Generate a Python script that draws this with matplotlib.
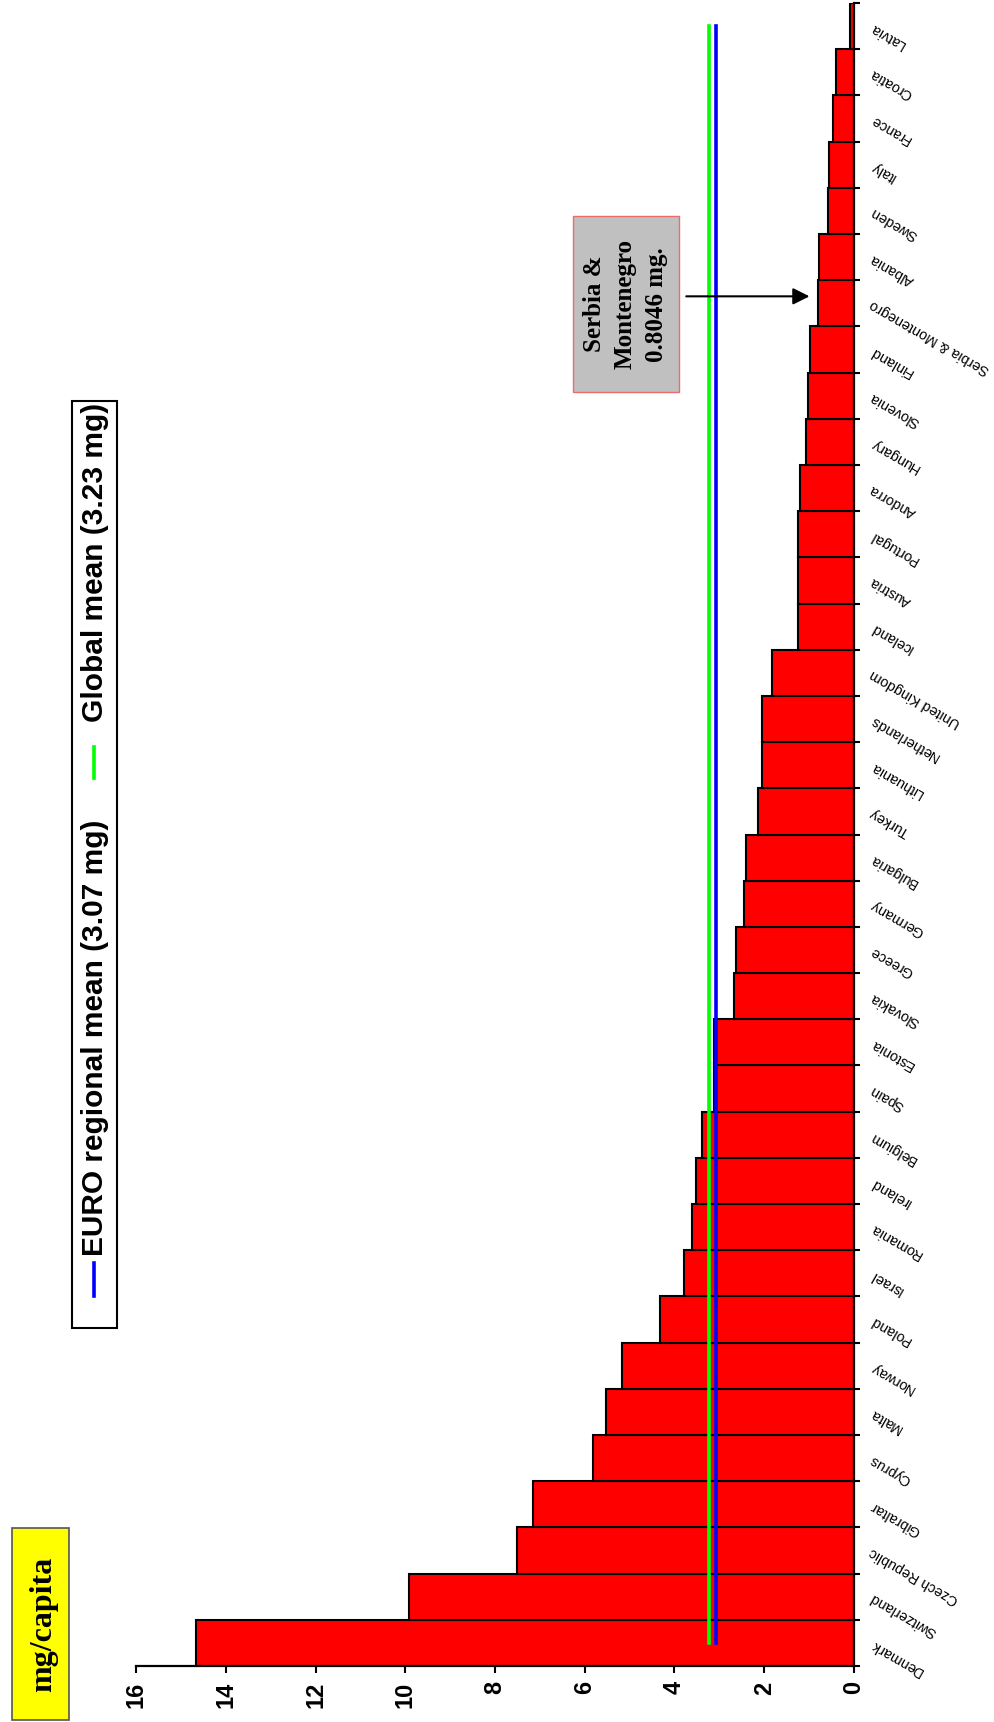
import numpy as np
import matplotlib
matplotlib.use("Agg")
import matplotlib.pyplot as plt
from matplotlib.patches import Rectangle
from matplotlib.lines import Line2D

plt.rcParams['font.family'] = ['Liberation Sans', 'DejaVu Sans']

# mg per capita, by country
countries = ['Denmark', 'Switzerland', 'Czech Republic', 'Gibraltar', 'Cyprus', 'Malta',
             'Norway', 'Poland', 'Israel', 'Romania', 'Ireland', 'Belgium', 'Spain',
             'Estonia', 'Slovakia', 'Greece', 'Germany', 'Bulgaria', 'Turkey', 'Lithuania',
             'Netherlands', 'United Kingdom', 'Iceland', 'Austria', 'Portugal', 'Andorra',
             'Hungary', 'Slovenia', 'Finland', 'Serbia & Montenegro', 'Albania', 'Sweden',
             'Italy', 'France', 'Croatia', 'Latvia']
values = [14.67, 9.92, 7.52, 7.16, 5.82, 5.52,
          5.16, 4.32, 3.78, 3.61, 3.52, 3.38, 3.12,
          3.12, 2.67, 2.62, 2.45, 2.41, 2.13, 2.04,
          2.04, 1.83, 1.25, 1.24, 1.24, 1.21,
          1.07, 1.03, 0.98, 0.8046, 0.77, 0.58,
          0.55, 0.46, 0.40, 0.09]
euro_mean = 3.07
global_mean = 3.23
value_ticks = [0, 2, 4, 6, 8, 10, 12, 14, 16]

W, H = 995, 1722
fig = plt.figure(figsize=(W / 100, H / 100), dpi=100)
fig.patch.set_facecolor('white')


def fx(x):
    return x / W


def fy(y):
    return 1 - y / H


# the chart is laid on its side: values grow to the left, countries go upward
ax = fig.add_axes([fx(136), fy(1666), (854 - 136) / W, (1666 - 3) / H])
pos = np.arange(len(countries))
ax.barh(pos, values, height=1.0, color='#FF0000', edgecolor='black', linewidth=1.5, zorder=2)
ax.plot([euro_mean, euro_mean], [pos[0], pos[-1]], color='#0000FF', lw=2.6, zorder=3)
ax.plot([global_mean, global_mean], [pos[0], pos[-1]], color='#00FF00', lw=2.6, zorder=3)

ax.set_xlim(16, 0)
ax.set_ylim(-0.5, len(countries) - 0.5)
for side in ['top', 'left']:
    ax.spines[side].set_visible(False)
for side in ['right', 'bottom']:
    ax.spines[side].set_linewidth(1.6)

ax.set_xticks(value_ticks)
ax.set_xticklabels([str(v) for v in value_ticks], rotation=90, fontsize=17, fontweight='bold')
ax.tick_params(axis='x', direction='out', length=5, width=1.5, pad=6)

ax.yaxis.tick_right()
ax.set_yticks(np.arange(-0.5, len(countries), 1.0))
ax.set_yticklabels([])
ax.tick_params(axis='y', direction='out', length=4.5, width=1.5)

for i, name in enumerate(countries):
    ax.text(-0.38, i, name, rotation=150, rotation_mode='anchor', ha='right', va='center',
            fontsize=10.3, clip_on=False)

# callout for Serbia & Montenegro
ax.add_patch(Rectangle((3.91, 27.08), 2.36, 3.81, facecolor='#C0C0C0', edgecolor='#EE6B6B',
                       linewidth=1.0, zorder=4))
ax.text(5.09, 28.98, 'Serbia &\nMontenegro\n0.8046 mg.', rotation=90, ha='center', va='center',
        family='Liberation Serif', fontweight='bold', fontsize=18, linespacing=1.45, zorder=5)
ax.annotate('', xy=(0.93, 29.15), xytext=(3.8, 29.15),
            arrowprops=dict(arrowstyle='-|>', color='black', lw=1.5, mutation_scale=25), zorder=5)

# unit label
fig.add_artist(Rectangle((fx(12), fy(1720)), (69 - 12) / W, (1720 - 1528) / H,
                         transform=fig.transFigure, facecolor='#FFFF00', edgecolor='#555555',
                         linewidth=1.2))
fig.text(fx(44), fy(1624), 'mg/capita', rotation=90, ha='center', va='center',
         family='Liberation Serif', fontweight='bold', fontsize=23)

# legend drawn by hand so it can stand on its side
fig.add_artist(Rectangle((fx(72), fy(1328)), (117 - 72) / W, (1328 - 401) / H,
                         transform=fig.transFigure, facecolor='white', edgecolor='black',
                         linewidth=1.5))
fig.add_artist(Line2D([fx(94), fx(94)], [fy(1296), fy(1263)], transform=fig.transFigure,
                      color='#0000FF', lw=2.6))
fig.text(fx(95), fy(1256), 'EURO regional mean (3.07 mg)', rotation=90, ha='center', va='bottom',
         fontsize=21.5, fontweight='bold')
fig.add_artist(Line2D([fx(94), fx(94)], [fy(778), fy(747)], transform=fig.transFigure,
                      color='#00FF00', lw=2.6))
fig.text(fx(95), fy(722), 'Global mean (3.23 mg)', rotation=90, ha='center', va='bottom',
         fontsize=21.5, fontweight='bold')

fig.savefig('out.png', dpi=100)
